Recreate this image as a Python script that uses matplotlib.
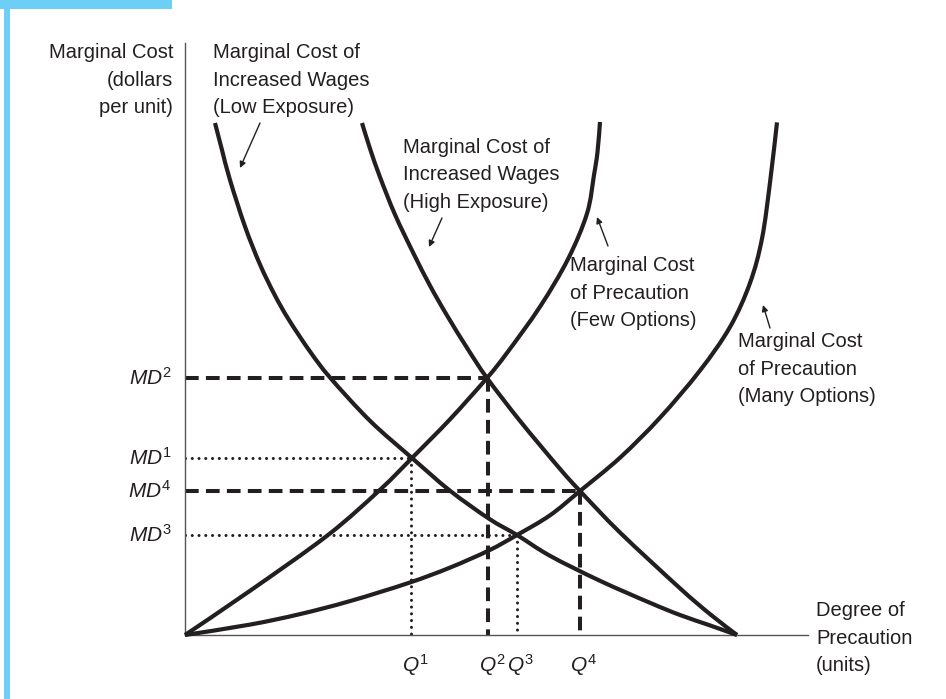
import matplotlib
matplotlib.use("Agg")
import matplotlib.pyplot as plt
from matplotlib.patches import Rectangle, PathPatch
from matplotlib.path import Path

plt.rcParams['font.family'] = ['Liberation Sans', 'DejaVu Sans']
plt.rcParams['mathtext.fontset'] = 'custom'
plt.rcParams['mathtext.rm'] = 'Liberation Sans'
plt.rcParams['mathtext.it'] = 'Liberation Sans:italic'

INK = '#231f20'
BLUE = '#6dcff6'

# ---- curves (degree of precaution, marginal cost) ----
wage_low_x = [3.0, 3.7, 4.5, 6.0, 7.5, 9.0, 10.4, 12.5, 14.5, 18.5, 22.7, 26.5, 30.4, 33.2, 36.5, 41.5, 46.5, 49.5, 52.5, 55.2]
wage_low_y = [51.2, 48.5, 45.5, 40.85, 37.05, 33.95, 31.5, 28.35, 25.75, 21.42, 17.7, 14.43, 11.63, 10.0, 7.92, 5.42, 3.22, 2.0, 0.96, 0.0]

wage_high_x = [17.7, 18.5, 19.5, 21.0, 22.8, 24.5, 26.2, 28.3, 30.2, 33.5, 37.5, 39.5, 43.5, 49.5, 52.5, 55.2]
wage_high_y = [51.2, 48.64, 45.79, 42.04, 38.26, 34.94, 31.96, 28.56, 25.7, 21.41, 16.61, 14.4, 10.25, 4.67, 2.09, 0.0]

prec_few_x = [0.0, 6.5, 14.3, 19.5, 22.7, 26.5, 30.2, 32.2, 35.5, 38.3, 40.2, 40.9, 41.25, 41.5]
prec_few_y = [0.0, 4.42, 10.0, 14.52, 17.7, 21.57, 25.7, 28.21, 32.83, 37.59, 42.15, 46.0, 48.3, 51.3]

prec_many_x = [0.0, 6.5, 11.5, 16.5, 22.4, 26.5, 30.4, 33.2, 36.5, 39.5, 43.5, 47.5, 51.5, 54.5, 56.5, 57.7, 58.5, 59.2]
prec_many_y = [0.0, 1.04, 2.09, 3.39, 5.22, 6.74, 8.46, 10.0, 11.97, 14.4, 17.73, 21.73, 26.45, 30.8, 35.2, 39.64, 45.24, 51.26]

# ---- equilibria ----
q_labels = [r'$Q^{1}$', r'$Q^{2}$', r'$Q^{3}$', r'$Q^{4}$']
md_labels = [r'$MD^{1}$', r'$MD^{2}$', r'$MD^{3}$', r'$MD^{4}$']
q_vals = [22.6, 30.3, 33.2, 39.5]
md_vals = [17.7, 25.7, 10.0, 14.4]
guide_styles = ['dotted', 'dashed', 'dotted', 'dashed']


def smooth_path(xs, ys):
    """Catmull-Rom curve through the given points, as cubic Bezier segments."""
    pts = list(zip(xs, ys))
    n = len(pts)
    verts = [pts[0]]
    codes = [Path.MOVETO]
    for i in range(n - 1):
        p0 = pts[i - 1] if i > 0 else pts[i]
        p1 = pts[i]
        p2 = pts[i + 1]
        p3 = pts[i + 2] if i + 2 < n else pts[i + 1]
        c1 = (p1[0] + (p2[0] - p0[0]) / 6, p1[1] + (p2[1] - p0[1]) / 6)
        c2 = (p2[0] - (p3[0] - p1[0]) / 6, p2[1] - (p3[1] - p1[1]) / 6)
        verts += [c1, c2, p2]
        codes += [Path.CURVE4] * 3
    return Path(verts, codes)


fig = plt.figure(figsize=(9.46, 6.99), dpi=100)
W, H = 946, 699
ax = fig.add_axes([185 / W, (H - 635) / H, (808 - 185) / W, (635 - 43) / H])
ax.set_xlim(0, 62.3)
ax.set_ylim(0, 59.2)
for s in ['top', 'right']:
    ax.spines[s].set_visible(False)
for s in ['left', 'bottom']:
    ax.spines[s].set_color('#555555')
    ax.spines[s].set_linewidth(1.0)
ax.set_xticks([])
ax.set_yticks([])

# guide lines
for q, md, st in zip(q_vals, md_vals, guide_styles):
    if st == 'dashed':
        kw = dict(color=INK, lw=2.9, dashes=(3.4, 1.8), dash_capstyle='butt')
    else:
        kw = dict(color=INK, lw=2.2, dashes=(0.01, 2.2), dash_capstyle='round')
    ax.plot([0, q], [md, md], **kw, zorder=2)
    ax.plot([q, q], [md, 0], **kw, zorder=2)

# curves
for xs, ys in [(wage_low_x, wage_low_y), (wage_high_x, wage_high_y),
               (prec_few_x, prec_few_y), (prec_many_x, prec_many_y)]:
    ax.add_patch(PathPatch(smooth_path(xs, ys), facecolor='none', edgecolor=INK,
                           lw=3.0, capstyle='butt', joinstyle='round',
                           clip_on=False, zorder=3))

FS = 14.5
LS = 1.56
# tick labels
for md, lab in zip(md_vals, md_labels):
    ax.text(-1.3, md, lab, ha='right', va='center', fontsize=FS + 0.5, color=INK)
for q, lab in zip(q_vals, q_labels):
    ax.text(q + 0.4, -3.0, lab, ha='center', va='center', fontsize=FS + 0.5, color=INK)

# axis titles
ax.text(-1.2, 55.5, 'Marginal Cost\n(dollars\nper unit)', ha='right', va='center',
        fontsize=FS, color=INK, linespacing=LS, multialignment='right')
ax.text(63.1, -0.3, 'Degree of\nPrecaution\n(units)', ha='left', va='center',
        fontsize=FS, color=INK, linespacing=LS)

# curve labels
labels = [
    ('Marginal Cost of\nIncreased Wages\n(Low Exposure)', 2.8, 55.5),
    ('Marginal Cost of\nIncreased Wages\n(High Exposure)', 21.8, 46.0),
    ('Marginal Cost\nof Precaution\n(Few Options)', 38.5, 34.2),
    ('Marginal Cost\nof Precaution\n(Many Options)', 55.3, 26.6),
]
for txt, x, y in labels:
    ax.text(x, y, txt, ha='left', va='center', fontsize=FS, color=INK, linespacing=LS)

arrows = [((7.5, 51.2), (5.5, 46.7)),
          ((25.7, 41.7), (24.4, 38.8)),
          ((42.3, 38.9), (41.2, 41.8)),
          ((58.5, 30.7), (57.8, 33.0))]
for tail, head in arrows:
    ax.annotate('', xy=head, xytext=tail,
                arrowprops=dict(arrowstyle='-|>', lw=1.0, color=INK,
                                mutation_scale=9, shrinkA=0, shrinkB=0))

# decorative blue frame
fig.patches.append(Rectangle((4 / W, 0), 6 / W, 1, transform=fig.transFigure,
                             color=BLUE, lw=0, zorder=0))
fig.patches.append(Rectangle((0, 1 - 9 / H), 172 / W, 9 / H, transform=fig.transFigure,
                             color=BLUE, lw=0, zorder=0))

fig.savefig('out.png', dpi=100)
